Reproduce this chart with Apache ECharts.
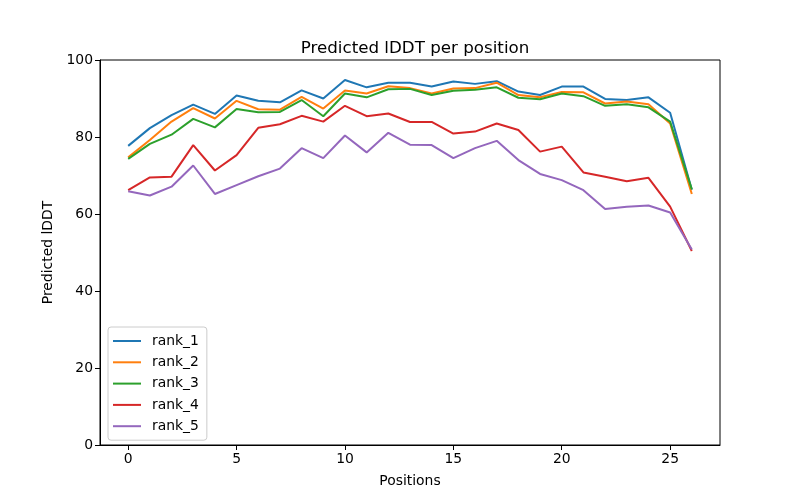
<!DOCTYPE html>
<html>
<head>
<meta charset="utf-8">
<script src="https://cdn.jsdelivr.net/npm/echarts@6/dist/echarts.min.js"></script>
<style>html,body{margin:0;padding:0;background:#fff;}#c{width:800px;height:500px;}</style>
</head>
<body>
<div id="c"></div>
<script>
const positions = [0,1,2,3,4,5,6,7,8,9,10,11,12,13,14,15,16,17,18,19,20,21,22,23,24,25,26];
const seriesNames = ['rank_1','rank_2','rank_3','rank_4','rank_5'];
const rank_1 = [77.7,82.3,85.7,88.4,86.0,90.8,89.4,89.0,92.1,90.0,94.8,92.9,94.1,94.1,93.1,94.4,93.8,94.5,91.8,90.9,93.1,93.1,89.9,89.6,90.3,86.3,66.3];
const rank_2 = [74.7,79.2,84.0,87.5,84.8,89.4,87.2,87.1,90.4,87.4,92.1,91.3,93.2,92.7,91.3,92.6,92.7,94.1,90.9,90.3,91.7,91.6,88.7,89.2,88.5,83.5,65.2];
const rank_3 = [74.3,78.2,80.6,84.7,82.5,87.3,86.4,86.5,89.6,85.4,91.3,90.3,92.4,92.5,90.9,92.0,92.3,92.9,90.2,89.8,91.3,90.6,88.1,88.5,87.7,84.0,66.4];
const rank_4 = [66.2,69.5,69.7,77.9,71.3,75.3,82.4,83.3,85.5,84.0,88.1,85.4,86.1,83.9,83.9,80.9,81.4,83.5,81.8,76.2,77.5,70.8,69.7,68.5,69.4,61.9,50.4];
const rank_5 = [65.9,64.8,67.1,72.6,65.2,67.5,69.8,71.8,77.1,74.5,80.4,76.0,81.1,78.0,77.9,74.5,77.1,79.0,74.0,70.4,68.8,66.2,61.3,61.9,62.2,60.4,50.8];
const xTicks = [0,5,10,15,20,25];
const yTicks = [0,20,40,60,80,100];
const colors = ['#1f77b4','#ff7f0e','#2ca02c','#d62728','#9467bd'];
const allData = [rank_1, rank_2, rank_3, rank_4, rank_5];

const chart = echarts.init(document.getElementById('c'), null, {renderer:'canvas'});
const font = 'DejaVu Sans';
chart.setOption({
  animation: false,
  backgroundColor: '#fff',
  color: colors,
  title: {
    text: 'Predicted lDDT per position',
    left: 410, textAlign: 'center', top: 35,
    textStyle: {fontFamily: font, fontSize: 16.7, fontWeight: 'normal', color: '#000'}
  },
  grid: {left: 100, right: 80, top: 60, bottom: 55, show: true, borderColor: '#000', borderWidth: 1, backgroundColor: 'transparent', containLabel: false},
  legend: {
    orient: 'vertical', left: 108, top: 327,
    data: seriesNames,
    icon: 'rect', itemWidth: 28, itemHeight: 2, itemGap: 7.3,
    padding: [7, 8, 7, 5],
    backgroundColor: 'rgba(255,255,255,0.8)', borderColor: '#cccccc', borderWidth: 1, borderRadius: 3,
    textStyle: {fontFamily: font, fontSize: 13.9, color: '#000', padding: [0,0,0,6]}
  },
  xAxis: {
    type: 'value', min: -1.3, max: 27.3,
    name: 'Positions', nameLocation: 'middle', nameGap: 29,
    nameTextStyle: {fontFamily: font, fontSize: 13.9, color: '#000'},
    axisLine: {show: true, onZero: false, lineStyle: {color: '#000', width: 1}},
    axisTick: {show: true, length: 5, inside: false, lineStyle: {color: '#000'}, customValues: xTicks},
    axisLabel: {fontFamily: font, fontSize: 13.9, color: '#000', margin: 7, customValues: xTicks},
    splitLine: {show: false}
  },
  yAxis: {
    type: 'value', min: 0, max: 100, interval: 20,
    name: 'Predicted lDDT', nameLocation: 'middle', nameGap: 45, nameRotate: 90,
    nameTextStyle: {fontFamily: font, fontSize: 13.9, color: '#000'},
    axisLine: {show: true, onZero: false, lineStyle: {color: '#000', width: 1}},
    axisTick: {show: true, length: 5, lineStyle: {color: '#000'}},
    axisLabel: {fontFamily: font, fontSize: 13.9, color: '#000', margin: 7},
    splitLine: {show: false}
  },
  series: seriesNames.map((n, i) => ({
    name: n, type: 'line',
    data: positions.map((p, j) => [p, allData[i][j]]),
    showSymbol: false, symbol: 'none',
    lineStyle: {width: 2, color: colors[i]},
    itemStyle: {color: colors[i]},
    z: 2 + i
  }))
});
</script>
</body>
</html>
